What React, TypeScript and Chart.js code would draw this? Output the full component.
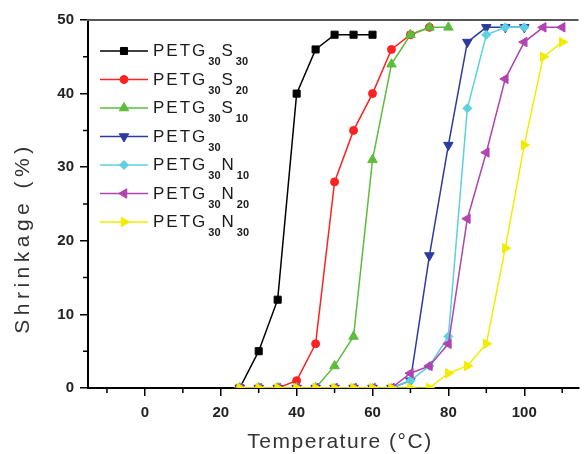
import React, { useEffect, useRef } from 'react';
import { Chart, registerables } from 'chart.js';
import { drawPoint } from 'chart.js/helpers';

Chart.register(...registerables);

// ---- data ----
const temperatures = [25, 30, 35, 40, 45, 50, 55, 60, 65, 70, 75, 80, 85, 90, 95, 100, 105, 110];
const petgS30 = [0, 5, 12, 40, 46, 48, 48, 48];
const petgS20 = [0, 0, 0, 1, 6, 28, 35, 40, 46, 48, 49];
const petgS10 = [0, 0, 0, 0, 0, 3, 7, 31, 44, 48, 49, 49];
const petg30 = [0, 0, 0, 0, 0, 0, 0, 0, 0, 1, 18, 33, 47, 49, 49, 49];
const petgN10 = [0, 0, 0, 0, 0, 0, 0, 0, 0, 1, 3, 7, 38, 48, 49, 49];
const petgN20 = [0, 0, 0, 0, 0, 0, 0, 0, 0, 2, 3, 6, 23, 32, 42, 47, 49, 49];
const petgN30 = [0, 0, 0, 0, 0, 0, 0, 0, 0, 0, 0, 2, 3, 6, 19, 33, 45, 47];

const seriesValues = [petgS30, petgS20, petgS10, petg30, petgN10, petgN20, petgN30];
const labelMain = ['PETG', 'PETG', 'PETG', 'PETG', 'PETG', 'PETG', 'PETG'];
const labelSub1 = ['30', '30', '30', '30', '30', '30', '30'];
const labelMid = ['S', 'S', 'S', '', 'N', 'N', 'N'];
const labelSub2 = ['30', '20', '10', '', '10', '20', '30'];

const xTicks = [0, 20, 40, 60, 80, 100];
const xMinorTicks = [-10, 10, 30, 50, 70, 90, 110];
const yTicks = [0, 10, 20, 30, 40, 50];
const yMinorTicks = [5, 15, 25, 35, 45];

const xTitle = 'Temperature (°C)';
const yTitle = 'Shrinkage (%)';

// ---- styles ----
const colors = ['#000000', '#ff2222', '#5cbd3c', '#2c3c9e', '#5ccfe2', '#b044b0', '#f2ec00'];
const pointStyles = ['rect', 'circle', 'triangle', 'triangle', 'rectRot', 'triangle', 'triangle'];
const rotations = [0, 0, 0, 180, 0, -90, 90];
const radii = [5, 4, 5.5, 5.5, 4.5, 5.5, 5.5];
const FONT = '"Liberation Sans", Arial, sans-serif';

const decorPlugin = {
  id: 'decor',
  afterDraw(chart: any) {
    const ctx = chart.ctx as CanvasRenderingContext2D;
    const { left, right, top, bottom } = chart.chartArea;
    const xs = chart.scales.x;
    const ys = chart.scales.y;
    ctx.save();
    // top frame
    ctx.strokeStyle = '#555';
    ctx.lineWidth = 2;
    ctx.beginPath();
    ctx.moveTo(left - 1, top);
    ctx.lineTo(right, top);
    ctx.stroke();
    // minor ticks
    ctx.strokeStyle = '#000';
    ctx.lineWidth = 1.5;
    ctx.beginPath();
    xMinorTicks.forEach((v) => {
      const px = xs.getPixelForValue(v);
      ctx.moveTo(px, bottom);
      ctx.lineTo(px, bottom + 5);
    });
    yMinorTicks.forEach((v) => {
      const py = ys.getPixelForValue(v);
      ctx.moveTo(left, py);
      ctx.lineTo(left - 5, py);
    });
    ctx.stroke();

    // axis titles
    ctx.fillStyle = '#333';
    ctx.font = `21px ${FONT}`;
    (ctx as any).letterSpacing = '1.5px';
    ctx.textAlign = 'center';
    ctx.textBaseline = 'alphabetic';
    ctx.fillText(xTitle, 340, 448);

    ctx.save();
    ctx.translate(29, 238);
    ctx.rotate(-Math.PI / 2);
    (ctx as any).letterSpacing = '4.5px';
    ctx.fillText(yTitle, 0, 0);
    ctx.restore();

    // legend
    chart.data.datasets.forEach((ds: any, i: number) => {
      const rowY = 51 + i * 28.5;
      ctx.strokeStyle = ds.borderColor;
      ctx.fillStyle = ds.borderColor;
      ctx.lineWidth = 1.5;
      ctx.beginPath();
      ctx.moveTo(100, rowY);
      ctx.lineTo(148, rowY);
      ctx.stroke();
      ctx.lineWidth = 1;
      drawPoint(ctx, { pointStyle: ds.pointStyle, rotation: ds.pointRotation, radius: ds.pointRadius, borderWidth: 1 } as any, 124, rowY);

      ctx.fillStyle = '#1a1a1a';
      ctx.textAlign = 'left';
      ctx.textBaseline = 'alphabetic';
      let x = 153;
      const parts: [string, boolean][] = [
        [labelMain[i], false],
        [labelSub1[i], true],
        [labelMid[i], false],
        [labelSub2[i], true],
      ];
      parts.forEach(([txt, sub]) => {
        if (!txt) return;
        if (sub) {
          ctx.font = `bold 11px ${FONT}`;
          (ctx as any).letterSpacing = '0px';
          x += 1;
          ctx.fillText(txt, x, rowY + 14);
          x += ctx.measureText(txt).width + 1;
        } else {
          ctx.font = `17px ${FONT}`;
          (ctx as any).letterSpacing = '2px';
          ctx.fillText(txt, x, rowY + 5);
          x += ctx.measureText(txt).width;
        }
      });
    });
    ctx.restore();
  },
};

export default function App() {
  const canvasRef = useRef<HTMLCanvasElement | null>(null);

  useEffect(() => {
    if (!canvasRef.current) return;
    const datasets = seriesValues.map((vals, i) => ({
      label: labelMain[i] + labelSub1[i] + labelMid[i] + labelSub2[i],
      data: vals.map((v, j) => ({ x: temperatures[j], y: v })),
      borderColor: colors[i],
      backgroundColor: colors[i],
      borderWidth: 1.5,
      pointStyle: pointStyles[i],
      pointRotation: rotations[i],
      pointRadius: radii[i],
      pointBorderWidth: 1,
      tension: 0,
      order: seriesValues.length - 1 - i,
    }));

    const tickFont = { family: FONT, size: 15, weight: 'bold' as const };

    const chart = new Chart(canvasRef.current, {
      type: 'line',
      data: { datasets },
      options: {
        animation: false,
        responsive: true,
        maintainAspectRatio: false,
        layout: { padding: { top: 20, right: 0, left: 0, bottom: 0 } },
        plugins: { legend: { display: false }, tooltip: { enabled: false } },
        scales: {
          x: {
            type: 'linear',
            min: -15,
            max: 114.3,
            afterBuildTicks: (s: any) => {
              s.ticks = xTicks.map((v) => ({ value: v }));
            },
            afterFit: (s: any) => {
              s.height = 66;
            },
            grid: { drawOnChartArea: false, tickLength: 8, color: '#000', tickColor: '#000', lineWidth: 1.5 },
            border: { color: '#000', width: 2 },
            ticks: { font: tickFont, color: '#222', padding: 8, maxRotation: 0, autoSkip: false },
          },
          y: {
            type: 'linear',
            min: 0,
            max: 50,
            afterBuildTicks: (s: any) => {
              s.ticks = yTicks.map((v) => ({ value: v }));
            },
            afterFit: (s: any) => {
              s.width = 88;
            },
            grid: { drawOnChartArea: false, tickLength: 8, color: '#000', tickColor: '#000', lineWidth: 1.5 },
            border: { color: '#000', width: 2 },
            ticks: { font: tickFont, color: '#222', padding: 6, autoSkip: false },
          },
        },
      },
      plugins: [decorPlugin],
    } as any);

    return () => chart.destroy();
  }, []);

  return (
    <div style={{ position: 'fixed', left: 0, top: 0, width: 585, height: 454, background: '#fff' }}>
      <canvas ref={canvasRef} />
    </div>
  );
}
